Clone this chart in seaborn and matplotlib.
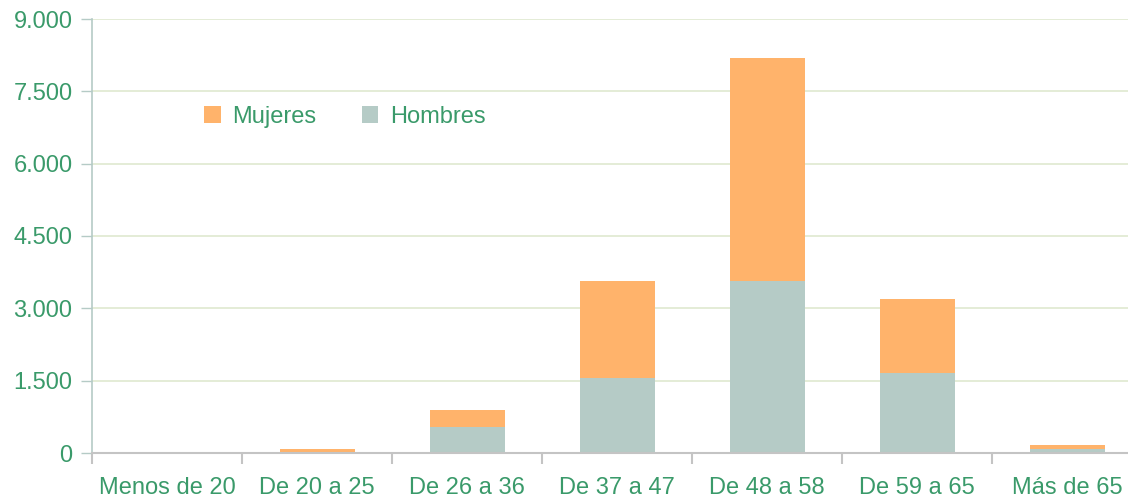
import pandas as pd
import seaborn as sns
import matplotlib
import matplotlib.pyplot as plt
from matplotlib.ticker import FuncFormatter, FixedLocator
matplotlib.use('Agg')

# data
categorias = ["Menos de 20", "De 20 a 25", "De 26 a 36", "De 37 a 47",
              "De 48 a 58", "De 59 a 65", "Más de 65"]
hombres = [0, 30, 540, 1560, 3570, 1660, 85]
mujeres = [10, 55, 350, 2010, 4620, 1530, 85]

GREEN = "#3a9a6a"
ORANGE = "#ffb36b"
TEAL = "#b5cbc6"

df = pd.DataFrame({"cat": categorias, "hombres": hombres, "mujeres": mujeres})
df["total"] = df["hombres"] + df["mujeres"]

sns.set_theme(style="white")
plt.rcParams['font.family'] = ['Liberation Sans', 'DejaVu Sans']

fig = plt.figure(figsize=(11.28, 5.01), dpi=100)
ax = fig.add_axes([92 / 1128, 48 / 501, 1050 / 1128, 434 / 501])

sns.barplot(data=df, x="cat", y="total", color=ORANGE, width=0.5,
            saturation=1, label="Mujeres", linewidth=0, ax=ax)
sns.barplot(data=df, x="cat", y="hombres", color=TEAL, width=0.5,
            saturation=1, label="Hombres", linewidth=0, ax=ax)

ax.set_xlim(-0.5, len(categorias) - 0.5)
ax.set_ylim(0, 9000)
ax.set_yticks(range(0, 9001, 1500))
ax.yaxis.set_major_formatter(FuncFormatter(lambda v, p: f"{int(v):,}".replace(",", ".")))
ax.grid(axis="y", color="#e2ebd3", linewidth=1.3)
ax.set_axisbelow(True)
ax.set_xlabel("")
ax.set_ylabel("")

for s in ["top", "right"]:
    ax.spines[s].set_visible(False)
ax.spines["left"].set_color(TEAL)
ax.spines["bottom"].set_color("#c4c4c4")
ax.spines["left"].set_linewidth(1.2)
ax.spines["bottom"].set_linewidth(1.5)

ax.tick_params(axis="y", length=8, width=1, color=TEAL, pad=6,
               labelsize=17, labelcolor=GREEN, left=True)
ax.tick_params(axis="x", which="major", length=0, pad=17,
               labelsize=17, labelcolor=GREEN)
ax.xaxis.set_minor_locator(FixedLocator([i - 0.5 for i in range(len(categorias) + 1)]))
ax.tick_params(axis="x", which="minor", length=8, width=1.5, color="#c4c4c4", bottom=True)

ax.legend(loc="center left", bbox_to_anchor=(183 / 1128, (501 - 117) / 501),
          bbox_transform=fig.transFigure, ncol=2, frameon=False,
          fontsize=17, labelcolor=GREEN, handlelength=0.7, handleheight=0.7,
          handletextpad=0.5, columnspacing=1.9)

fig.savefig("out.png", dpi=100)
